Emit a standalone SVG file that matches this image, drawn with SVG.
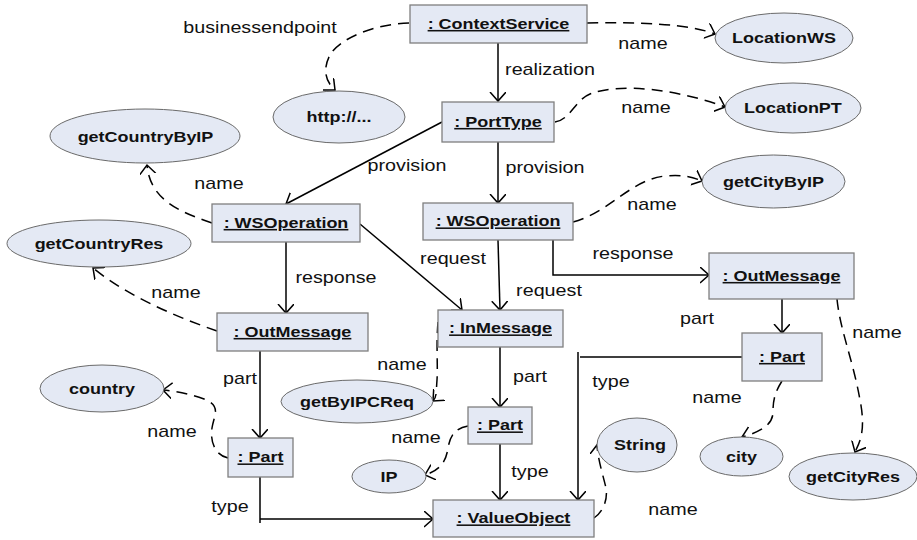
<svg xmlns="http://www.w3.org/2000/svg" width="917" height="540" viewBox="0 0 917 540">
  <style>
    .box { fill: #e4e9f4; stroke: #7f7f7f; stroke-width: 1.3; }
    .val { fill: #e4e9f4; stroke: #6a6a6a; stroke-width: 1; }
    text { font-family: "Liberation Sans", Arial, sans-serif; fill: #111; text-anchor: middle;
           transform-box: fill-box; transform-origin: center; transform: scaleX(1.16); }
    .obj { font-size: 15.5px; font-weight: bold; text-decoration: underline; }
    .lit { font-size: 15.5px; font-weight: bold; }
    .lbl { font-size: 17px; }
    .link { fill: none; stroke: #000; stroke-width: 1.5; marker-end: url(#open); }
    .ref { fill: none; stroke: #000; stroke-width: 1.5; stroke-dasharray: 11 7; marker-end: url(#open); }
  </style>
  <defs>
    <marker id="open" markerUnits="userSpaceOnUse" markerWidth="13" markerHeight="18" refX="9" refY="8" orient="auto">
      <path d="M0,0 L9,8 L0,16" fill="none" stroke="#000" stroke-width="1.5"/>
    </marker>
  </defs>
  <rect width="917" height="540" fill="#fff"/>

  <!-- connectors -->
  <g id="connectors">
    <path class="link" d="M498,43 V101"/>
    <path class="link" d="M442,122 L286,204"/>
    <path class="link" d="M498,142 V203"/>
    <path class="link" d="M286,242 V313"/>
    <path class="link" d="M360,224 L462,310"/>
    <path class="link" d="M498,240 L500,310"/>
    <path class="link" d="M553,240 V275 H709"/>
    <path class="link" d="M260,351 V438"/>
    <path class="link" d="M500,347 V407"/>
    <path class="link" d="M782,299 V333"/>
    <path class="link" d="M500,444 V500"/>
    <path class="link" d="M260,477 V523 M260,519 H433"/>
    <path class="link" d="M742,357 H580 M578,352 V500"/>

    <path class="ref" d="M409,23 C375,24 340,38 330,55 C322,70 326,82 335,90"/>
    <path class="ref" d="M587,23 C640,22 690,24 715,34"/>
    <path class="ref" d="M555,122 C570,120 575,100 590,94 C620,82 680,90 725,107"/>
    <path class="ref" d="M212,223 C180,212 150,200 147,165"/>
    <path class="ref" d="M573,222 C610,212 630,180 665,176 C685,174 695,178 702,181"/>
    <path class="ref" d="M217,331 C180,318 130,298 93,268"/>
    <path class="ref" d="M438,322 C436,345 438,365 437,380 C436,392 437,397 433,401"/>
    <path class="ref" d="M468,426 C455,428 450,436 448,448 C446,462 440,470 425,475"/>
    <path class="ref" d="M228,458 C214,455 210,440 212,428 C214,415 222,406 204,399 C190,394 175,391 163,390"/>
    <path class="ref" d="M594,518 C603,512 608,500 606,488 C603,475 598,460 597,445"/>
    <path class="ref" d="M782,381 C775,392 773,400 773,412 C773,425 760,432 742,437"/>
    <path class="ref" d="M837,299 C840,330 853,360 860,400 C866,430 860,442 855,452"/>

    <text class="lbl" x="260" y="33">businessendpoint</text>
    <text class="lbl" x="550" y="75">realization</text>
    <text class="lbl" x="643" y="49">name</text>
    <text class="lbl" x="646" y="113">name</text>
    <text class="lbl" x="407" y="171">provision</text>
    <text class="lbl" x="545" y="173">provision</text>
    <text class="lbl" x="219" y="189">name</text>
    <text class="lbl" x="652" y="210">name</text>
    <text class="lbl" x="633" y="259">response</text>
    <text class="lbl" x="453" y="264">request</text>
    <text class="lbl" x="336" y="283">response</text>
    <text class="lbl" x="549" y="296">request</text>
    <text class="lbl" x="176" y="298">name</text>
    <text class="lbl" x="697" y="324">part</text>
    <text class="lbl" x="877" y="338">name</text>
    <text class="lbl" x="402" y="370">name</text>
    <text class="lbl" x="530" y="382">part</text>
    <text class="lbl" x="240" y="384">part</text>
    <text class="lbl" x="611" y="387">type</text>
    <text class="lbl" x="717" y="403">name</text>
    <text class="lbl" x="172" y="437">name</text>
    <text class="lbl" x="416" y="443">name</text>
    <text class="lbl" x="530" y="477">type</text>
    <text class="lbl" x="230" y="512">type</text>
    <text class="lbl" x="673" y="515">name</text>
  </g>

  <!-- object nodes -->
  <g id="contextService"><rect class="box" x="410" y="5" width="177" height="38"/><text class="obj" x="498.5" y="29">: ContextService</text></g>
  <g id="portType"><rect class="box" x="442" y="102" width="112" height="40"/><text class="obj" x="498" y="127">: PortType</text></g>
  <g id="wsOperationCountry"><rect class="box" x="212" y="204" width="148" height="38"/><text class="obj" x="286" y="228">: WSOperation</text></g>
  <g id="wsOperationCity"><rect class="box" x="423" y="203" width="150" height="37"/><text class="obj" x="498" y="226.5">: WSOperation</text></g>
  <g id="outMessageCountry"><rect class="box" x="217" y="313" width="151" height="38"/><text class="obj" x="292.5" y="337">: OutMessage</text></g>
  <g id="inMessage"><rect class="box" x="438" y="310" width="125" height="37"/><text class="obj" x="500.5" y="333.5">: InMessage</text></g>
  <g id="outMessageCity"><rect class="box" x="709" y="253" width="145" height="46"/><text class="obj" x="781.5" y="281">: OutMessage</text></g>
  <g id="partCity"><rect class="box" x="742" y="333" width="80" height="48"/><text class="obj" x="782" y="362">: Part</text></g>
  <g id="partIP"><rect class="box" x="468" y="407" width="64" height="37"/><text class="obj" x="500" y="430.5">: Part</text></g>
  <g id="partCountry"><rect class="box" x="228" y="438" width="65" height="39"/><text class="obj" x="260.5" y="462.5">: Part</text></g>
  <g id="valueObject"><rect class="box" x="433" y="500" width="161" height="37"/><text class="obj" x="513.5" y="523.5">: ValueObject</text></g>

  <!-- value nodes -->
  <g id="http"><ellipse class="val" cx="339" cy="117" rx="66" ry="26"/><text class="lit" x="339" y="122.5">http://...</text></g>
  <g id="locationWS"><ellipse class="val" cx="784" cy="38" rx="69" ry="25"/><text class="lit" x="784" y="43.5">LocationWS</text></g>
  <g id="locationPT"><ellipse class="val" cx="793" cy="108" rx="68" ry="25"/><text class="lit" x="793" y="113.5">LocationPT</text></g>
  <g id="getCountryByIP"><ellipse class="val" cx="145" cy="136" rx="95" ry="27"/><text class="lit" x="145.5" y="142">getCountryByIP</text></g>
  <g id="getCityByIP"><ellipse class="val" cx="773.5" cy="181.5" rx="71.5" ry="26.5"/><text class="lit" x="773.5" y="187">getCityByIP</text></g>
  <g id="getCountryRes"><ellipse class="val" cx="99" cy="243.5" rx="92" ry="23.5"/><text class="lit" x="99" y="249.5">getCountryRes</text></g>
  <g id="country"><ellipse class="val" cx="102" cy="388.5" rx="62" ry="23.5"/><text class="lit" x="102" y="394">country</text></g>
  <g id="getByIPCReq"><ellipse class="val" cx="357" cy="401.5" rx="76" ry="21.5"/><text class="lit" x="357" y="407">getByIPCReq</text></g>
  <g id="ip"><ellipse class="val" cx="389" cy="476.5" rx="37" ry="16.5"/><text class="lit" x="389" y="482">IP</text></g>
  <g id="string"><ellipse class="val" cx="637" cy="445" rx="40" ry="27"/><text class="lit" x="640" y="450">String</text></g>
  <g id="city"><ellipse class="val" cx="741.5" cy="456.5" rx="41.5" ry="19.5"/><text class="lit" x="741.5" y="462">city</text></g>
  <g id="getCityRes"><ellipse class="val" cx="853" cy="476.5" rx="64" ry="23.5"/><text class="lit" x="853" y="482">getCityRes</text></g>
</svg>
